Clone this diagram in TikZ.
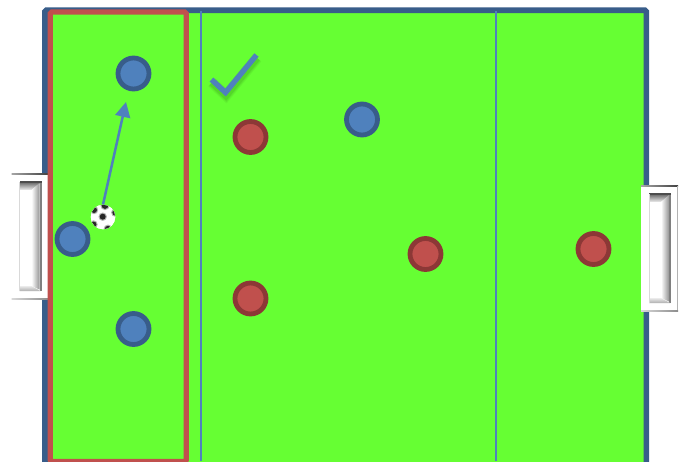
\documentclass[tikz,border=0pt]{standalone}
\usetikzlibrary{arrows.meta}
\definecolor{pitch}{HTML}{66FF33}
\definecolor{bluefill}{HTML}{4F81BD}
\definecolor{blueline}{HTML}{385D8A}
\definecolor{redfill}{HTML}{C0504D}
\definecolor{redline}{HTML}{8C3836}
\tikzset{
  blueplayer/.style={circle,draw=blueline,fill=bluefill,line width=4.8pt,minimum size=31pt,inner sep=0pt},
  redplayer/.style={circle,draw=redline,fill=redfill,line width=4.8pt,minimum size=31pt,inner sep=0pt},
  divider/.style={draw=bluefill,line width=1.4pt},
  ballnode/.style={circle,fill=white,minimum size=24.5pt,inner sep=0pt},
  goal/.pic={
    \fill[white] (0,0.5) rectangle (37,126);
    \shade[left color=black!35,right color=black!75] (0,0) rectangle (37,1.6);
    \fill[black!30] (36,1) rectangle (37,126);
    \shade[left color=black!15,right color=black!45] (0,125) rectangle (37,126.2);
    % bevels
    \shade[top color=black!60,bottom color=black!6] (8,9) -- (30,9) -- (20,17) -- (8,17) -- cycle;
    \shade[left color=white,right color=black!42] (20,17) -- (28,10) -- (28,116.5) -- (20,113) -- cycle;
    \fill[black!50] (28,9) rectangle (30,118);
    \fill[black!70] (8,8) rectangle (30,9.6);
    \fill[white] (8,17) rectangle (20,113);
    \shade[top color=black!8,bottom color=black!32] (8,113) -- (20,113) -- (29,118) -- (8,118) -- cycle;
    \draw[black!15,line width=.6pt] (8,9) -- (8,118);
  }
}
\newcommand{\ballblob}[3]{%
  \fill[black!30] (#1,#2) circle (#3+1.2);
  \fill[black!85] (#1,#2) circle (#3);
}
\begin{document}
\begin{tikzpicture}[x=1pt,y=-1pt]
\useasboundingbox (0,0) rectangle (679,461);
\fill[white] (0,0) rectangle (679,461);
% pitch
\filldraw[fill=pitch,draw=blueline,line width=5.6pt,rounded corners=1.5pt]
  (45,10.2) -- (646.3,10.2) -- (646.3,470) -- (45,470) -- cycle;
% dividers
\coordinate (d1t) at (201,10.5); \coordinate (d1b) at (201,461);
\coordinate (d2t) at (496,10.5); \coordinate (d2b) at (496,461);
\draw[divider] (d1t) -- (d1b);
\draw[divider] (d2t) -- (d2b);
% goals
\pic at (11.5,173) {goal};
\pic at (641,185) {goal};
% red zone
\draw[redfill,line width=5.2pt,rounded corners=1.5pt] (50.2,12) rectangle (186.2,461.5);
% check mark
\foreach \w/\o in {11/.07,9/.09,7/.12}
  \draw[black!60!pitch,opacity=\o,line width=\w pt,line join=miter] (212,82.5) -- (226,95.5) -- (257,58);
\draw[bluefill,line width=5.4pt,line join=miter] (211.5,79.5) -- (225.5,92.5) -- (256.5,55);
% players
\node[blueplayer] (b1) at (133.5,73.5) {};
\node[blueplayer] (b2) at (72.5,239) {};
\node[blueplayer] (b3) at (133.5,329) {};
\node[blueplayer] (b4) at (362,119.5) {};
\node[redplayer] (r1) at (250.5,137) {};
\node[redplayer] (r2) at (250.5,298.5) {};
\node[redplayer] (r3) at (425.5,254) {};
\node[redplayer] (r4) at (593.5,249) {};
% pass
\node[ballnode] (ball) at (103,217) {};
\coordinate (tip) at (126,102);
\draw[bluefill,line width=2.5pt,-{Triangle[length=15pt,width=15pt]}] (ball.north) -- (tip);
% ball
\node[ballnode] at (ball.center) {};
\begin{scope}
  \clip (ball.center) circle (12.2);
  \ballblob{102.7}{216.7}{3}
  \ballblob{105}{205.5}{3.4}
  \ballblob{115.5}{212.5}{3.2}
  \ballblob{108}{229}{3.2}
  \ballblob{93.5}{224.5}{3}
  \ballblob{94}{210}{3}
\end{scope}
\end{tikzpicture}
\end{document}
